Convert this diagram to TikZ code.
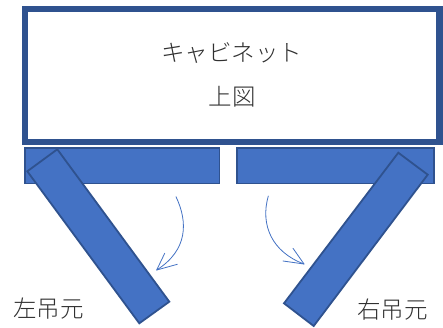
\documentclass[tikz,border=0pt]{standalone}
\usepackage{fontspec}
\newfontfamily\cjk{Noto Sans CJK JP Light}
\definecolor{doorfill}{HTML}{4472C4}
\definecolor{doorline}{HTML}{2F528F}
\definecolor{labeltext}{HTML}{303030}
\tikzset{
  door/.style={draw=doorline,fill=doorfill,line width=1.8pt,line join=miter},
  cabinet/.style={draw=doorline,fill=white,line width=6.5pt},
  swing/.style={draw=doorfill,line width=0.8pt,line cap=round,line join=round},
  label/.style={text=labeltext,font=\cjk\fontsize{23.5}{28}\selectfont,inner sep=0pt}
}
\begin{document}
\begin{tikzpicture}[x=1pt,y=-1pt]
\useasboundingbox (0,0) rectangle (443,327);
\fill[white] (0,0) rectangle (443,327);
\draw[cabinet] (25,8.8) rectangle (439.5,141.8);
\draw[door] (24.8,148) rectangle (219.5,183.5);
\draw[door] (236.8,148) rectangle (433.8,183.5);
\draw[door] (57.3,149.3) -- (27.3,171.3) -- (139.3,323.3) -- (169.3,301.7) -- cycle;
\draw[door] (398.3,152.7) -- (427.7,174.7) -- (313.7,326) -- (284,303.3) -- cycle;
\draw[swing] (176,196.7) .. controls (188,222) and (188,250) .. (156.7,270);
\draw[swing] (164.7,253.3) -- (156.7,270) -- (177.3,264.3);
\draw[swing] (268.3,196) .. controls (260,225) and (272,252) .. (304,264);
\draw[swing] (293,248.3) -- (304,264) -- (283,261);
\node[label] (title) at (231.5,53.5) {キャビネット};
\node[label] (sub) at (232,96.5) {上図};
\node[label] (left) at (48.5,308.5) {左吊元};
\node[label] (right) at (392.5,310) {右吊元};
\end{tikzpicture}
\end{document}
